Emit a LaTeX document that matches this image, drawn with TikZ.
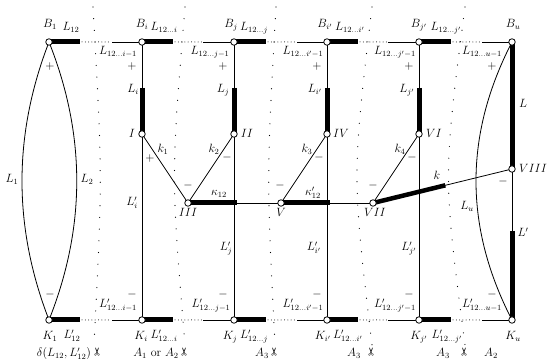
\documentclass[tikz,border=0pt]{standalone}
\usepackage{fontspec}
\newfontfamily\dejavu{DejaVu Sans}
\usetikzlibrary{calc}
\pgfdeclarelayer{bg}
\pgfsetlayers{bg,main}
\begin{document}
\begin{tikzpicture}[x=1pt,y=-1pt,
  every node/.style={font=\fontsize{12}{14}\selectfont},
  vtx/.style={circle,draw,fill=white,inner sep=0pt,minimum size=6.5pt,line width=0.8pt},
  thinln/.style={line width=0.8pt},
  bar/.style={line width=5pt},
  kbar/.style={line width=4.5pt},
  hdots/.style={line width=1pt,line cap=round,dash pattern=on 0pt off 3.3pt},
  vdots/.style={line width=1.2pt,line cap=round,dash pattern=on 0pt off 11.7pt},
  lbl/.style={anchor=base,inner sep=0pt},
  sgn/.style={inner sep=0pt},
  cut/.style={inner sep=0pt,rotate=90,font=\dejavu\fontsize{11}{11}\selectfont}
]
\useasboundingbox (0,0) rectangle (550,363);

% vertices
\node[vtx] (B1) at (49,42) {};
\node[vtx] (Bi) at (142,42) {};
\node[vtx] (Bj) at (234,42) {};
\node[vtx] (Bip) at (327,42) {};
\node[vtx] (Bjp) at (419,42) {};
\node[vtx] (Bu) at (512,42) {};
\node[vtx] (K1) at (49,320) {};
\node[vtx] (Ki) at (142,320) {};
\node[vtx] (Kj) at (234,320) {};
\node[vtx] (Kip) at (327,320) {};
\node[vtx] (Kjp) at (419,320) {};
\node[vtx] (Ku) at (512,320) {};
\node[vtx] (I) at (142,134) {};
\node[vtx] (II) at (234,134) {};
\node[vtx] (IV) at (327,134) {};
\node[vtx] (VI) at (419,134) {};
\node[vtx] (III) at (188,203) {};
\node[vtx] (V) at (281,203) {};
\node[vtx] (VII) at (373,203) {};
\node[vtx] (VIII) at (512,169) {};

\begin{pgfonlayer}{bg}
% cut lines
\draw[vdots] (93,7) .. controls (102.5,176) .. (94,345);
\draw[vdots] (185,7) .. controls (171,176) .. (185,345);
\draw[vdots] (276,7) .. controls (266.5,176) .. (275,345);
\draw[vdots] (372,7) .. controls (352,176) .. (372,345);
\draw[vdots] (465,7) .. controls (443,176) .. (465,345);
% top and bottom rows
\foreach \r/\y in {B/42,K/320}{
  \draw[bar] (\r1.center) -- (80,\y);
  \draw[hdots] (82,\y) -- (111,\y);
  \draw[thinln] (112,\y) -- (\r i.center);
  \draw[bar] (\r i.center) -- (173,\y);
  \draw[hdots] (175,\y) -- (202,\y);
  \draw[thinln] (203,\y) -- (\r j.center);
  \draw[bar] (\r j.center) -- (266,\y);
  \draw[hdots] (268,\y) -- (296,\y);
  \draw[thinln] (297,\y) -- (\r ip.center);
  \draw[bar] (\r ip.center) -- (358,\y);
  \draw[hdots] (360,\y) -- (387,\y);
  \draw[thinln] (388,\y) -- (\r jp.center);
  \draw[bar] (\r jp.center) -- (451,\y);
  \draw[hdots] (453,\y) -- (481,\y);
  \draw[thinln] (482,\y) -- (\r u.center);
}
% lens
\draw[thinln] (B1.center) .. controls (13,135) and (13,227) .. (K1.center);
\draw[thinln] (B1.center) .. controls (86,135) and (86,227) .. (K1.center);
% right arc
\draw[thinln] (Bu.center) .. controls (464,135) and (464,227) .. (Ku.center);
% verticals
\draw[thinln] (Bi.center) -- (Ki.center);
\draw[bar] (142,88) -- (I.center);
\draw[thinln] (Bj.center) -- (Kj.center);
\draw[bar] (234,88) -- (II.center);
\draw[thinln] (Bip.center) -- (Kip.center);
\draw[bar] (327,88) -- (IV.center);
\draw[thinln] (Bjp.center) -- (Kjp.center);
\draw[bar] (419,88) -- (VI.center);
\draw[thinln] (Bu.center) -- (Ku.center);
\draw[bar] (Bu.center) -- (VIII.center);
\draw[bar] (512,231) -- (Ku.center);
% k edges
\draw[thinln] (I.center) -- (III.center);
\draw[thinln] (II.center) -- (III.center);
\draw[thinln] (IV.center) -- (V.center);
\draw[thinln] (VI.center) -- (VII.center);
% middle horizontal
\draw[thinln] (III.center) -- (VII.center);
\draw[bar] (III.center) -- (237,203);
\draw[bar] (V.center) -- (330,203);
% k
\draw[thinln] (VII.center) -- (VIII.center);
\coordinate (kend) at ($(VII.center)!0.52!(VIII.center)$);
\draw[kbar] (VII.center) -- (kend);
\end{pgfonlayer}

% top labels
\node[lbl] (tB1) at (50,28) {$B_1$};
\node[lbl] (tBi) at (142,28) {$B_i$};
\node[lbl] (tBj) at (231,28) {$B_j$};
\node[lbl] (tBip) at (325,28) {$B_{i'}$};
\node[lbl] (tBjp) at (419,28) {$B_{j'}$};
\node[lbl] (tBu) at (513,28) {$B_u$};
\node[lbl] (tL12) at (71,31) {$L_{12}$};
\node[lbl] (tLi) at (164,31) {$L_{12\ldots i}$};
\node[lbl] (tLj) at (254,31) {$L_{12\ldots j}$};
\node[lbl] (tLip) at (350,31) {$L_{12\ldots i'}$};
\node[lbl] (tLjp) at (446,31) {$L_{12\ldots j'}$};
\node[lbl] (tLim) at (118,55) {$L_{12\ldots i-1}$};
\node[lbl] (tLjm) at (210,55) {$L_{12\ldots j-1}$};
\node[lbl] (tLipm) at (303,55) {$L_{12\ldots i'-1}$};
\node[lbl] (tLjpm) at (395,55) {$L_{12\ldots j'-1}$};
\node[lbl] (tLum) at (482,55) {$L_{12\ldots u-1}$};
\foreach \x [count=\n] in {50,132,223,317,409,492}{
  \node[sgn] (p\n) at (\x,67) {$+$};
  \node[sgn] (m\n) at (\x,295) {$-$};
}
\node[lbl] (lLi) at (133,93) {$L_i$};
\node[lbl] (lLj) at (223,93) {$L_j$};
\node[lbl] (lLip) at (315,93) {$L_{i'}$};
\node[lbl] (lLjp) at (407,93) {$L_{j'}$};
\node[lbl] (lL) at (523,108) {$L$};
\node[lbl] (lLp) at (523,237) {$L'$};
\node[lbl] (lL1) at (12,183) {$L_1$};
\node[lbl] (lL2) at (87,183) {$L_2$};
\node[lbl] (lLu) at (467,210) {$L_u$};
% roman vertex labels
\node[lbl] (nI) at (132,138) {$I$};
\node[lbl] (nII) at (247,138) {$II$};
\node[lbl] (nIV) at (341,138) {$IV$};
\node[lbl] (nVI) at (434,138) {$VI$};
\node[lbl] (nIII) at (188,217) {$III$};
\node[lbl] (nV) at (281,217) {$V$};
\node[lbl] (nVII) at (375,217) {$VII$};
\node[lbl] (nVIII) at (533,173) {$VIII$};
% k labels
\node[lbl] (k1) at (163,153) {$k_1$};
\node[lbl] (k2) at (214,153) {$k_2$};
\node[lbl] (k3) at (307,153) {$k_3$};
\node[lbl] (k4) at (400,153) {$k_4$};
\node[lbl] (kk) at (437,180) {$k$};
\node[lbl] (ka) at (219,196) {$\kappa_{12}$};
\node[lbl] (kb) at (313,196) {$\kappa'_{12}$};
\node[sgn] (s1) at (150,159) {$+$};
\node[sgn] (s2) at (227,158) {$-$};
\node[sgn] (s3) at (188,186) {$-$};
\node[sgn] (s4) at (319,158) {$-$};
\node[sgn] (s5) at (280,186) {$-$};
\node[sgn] (s6) at (412,158) {$-$};
\node[sgn] (s7) at (373,186) {$-$};
\node[sgn] (s8) at (503,182) {$-$};
% middle L' labels
\node[lbl] (mLi) at (132,206) {$L'_i$};
\node[lbl] (mLj) at (226,251) {$L'_j$};
\node[lbl] (mLip) at (314,251) {$L'_{i'}$};
\node[lbl] (mLjp) at (409,251) {$L'_{j'}$};
% bottom labels
\node[lbl] (bLim) at (118,308) {$L'_{12\ldots i-1}$};
\node[lbl] (bLjm) at (211,308) {$L'_{12\ldots j-1}$};
\node[lbl] (bLipm) at (303,308) {$L'_{12\ldots i'-1}$};
\node[lbl] (bLjpm) at (395,308) {$L'_{12\ldots j'-1}$};
\node[lbl] (bLum) at (482,308) {$L'_{12\ldots u-1}$};
\node[lbl] (bK1) at (50,340) {$K_1$};
\node[lbl] (bKi) at (141,340) {$K_i$};
\node[lbl] (bKj) at (230,340) {$K_j$};
\node[lbl] (bKip) at (323,340) {$K_{i'}$};
\node[lbl] (bKjp) at (419,340) {$K_{j'}$};
\node[lbl] (bKu) at (513,340) {$K_u$};
\node[lbl] (bL12) at (72,339) {$L'_{12}$};
\node[lbl] (bLi) at (164,339) {$L'_{12\ldots i}$};
\node[lbl] (bLj) at (254,339) {$L'_{12\ldots j}$};
\node[lbl] (bLip) at (348,339) {$L'_{12\ldots i'}$};
\node[lbl] (bLjp) at (447,339) {$L'_{12\ldots j'}$};
\node[lbl] (area0) at (64,357) {$\delta(L_{12},L'_{12})$};
\node[lbl] (area1) at (156,357) {$A_1$ or $A_2$};
\node[lbl] (area2) at (262,357) {$A_3$};
\node[lbl] (area3) at (354,357) {$A_3$};
\node[lbl] (area4) at (443,357) {$A_3$};
\node[lbl] (area5) at (491,357) {$A_2$};
\foreach \x [count=\n] in {98,185,275,372,465}{
  \node[cut] (c\n) at (\x,352) {✂};
}
\end{tikzpicture}
\end{document}
